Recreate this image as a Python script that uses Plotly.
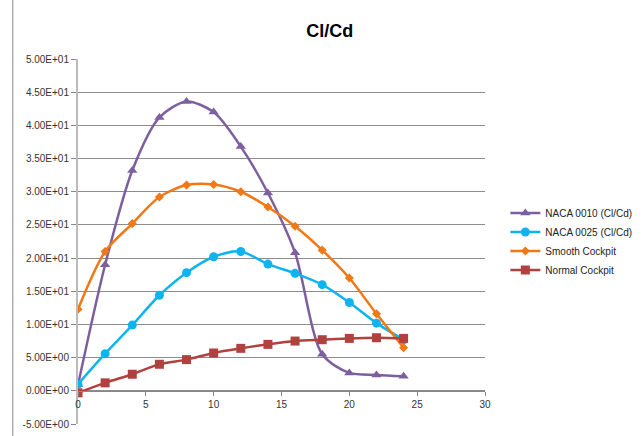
import plotly.graph_objects as go

aoa = [0, 2, 4, 6, 8, 10, 12, 14, 16, 18, 20, 22, 24]
naca0010 = [0.9, 19.0, 33.2, 41.2, 43.6, 42.0, 36.8, 29.8, 20.8, 5.5, 2.7, 2.4, 2.2]
naca0025 = [1.0, 5.6, 9.9, 14.4, 17.8, 20.2, 21.0, 19.1, 17.7, 16.0, 13.3, 10.2, 7.7]
smooth = [12.3, 21.0, 25.2, 29.2, 31.0, 31.1, 30.0, 27.7, 24.8, 21.2, 17.0, 11.6, 6.5]
normal = [-0.3, 1.2, 2.5, 4.0, 4.7, 5.7, 6.4, 7.0, 7.5, 7.7, 7.9, 8.0, 7.9]

ytick_vals = [-5, 0, 5, 10, 15, 20, 25, 30, 35, 40, 45, 50]
ytick_text = ["-5.00E+00", "0.00E+00", "5.00E+00", "1.00E+01", "1.50E+01", "2.00E+01",
              "2.50E+01", "3.00E+01", "3.50E+01", "4.00E+01", "4.50E+01", "5.00E+01"]
xtick_vals = [0, 5, 10, 15, 20, 25, 30]

series = [
    ("NACA 0010 (Cl/Cd)", naca0010, "#7D5FA0", "triangle-up", 9),
    ("NACA 0025 (Cl/Cd)", naca0025, "#0FB4EE", "circle", 9),
    ("Smooth Cockpit", smooth, "#F07817", "diamond", 7),
    ("Normal Cockpit", normal, "#B0413E", "square", 9),
]

fig = go.Figure()
for name, vals, col, sym, sz in series:
    fig.add_trace(go.Scatter(
        x=aoa, y=vals, name=name, mode="lines+markers",
        line=dict(color=col, width=2.5, shape="spline", smoothing=0.8),
        marker=dict(symbol=sym, size=sz, color=col),
    ))

fig.update_layout(
    width=643, height=436,
    margin=dict(l=78, r=153, t=59, b=6),
    paper_bgcolor="white", plot_bgcolor="white",
    font=dict(family="Liberation Sans, Arial, sans-serif", size=10, color="#333333"),
    title=dict(text="<b>Cl/Cd</b>", x=0.513, xanchor="center", y=0.93, yanchor="middle",
               font=dict(size=18, color="#000000")),
    legend=dict(x=1.05, xanchor="left", y=0.5, yanchor="middle",
                font=dict(size=10, color="#222222"), itemwidth=30,
                bgcolor="rgba(0,0,0,0)", tracegroupgap=0),
    xaxis=dict(range=[0, 30], tickvals=xtick_vals, showgrid=False, zeroline=False,
               anchor="free", position=5 / 55, showline=True, linecolor="#888888",
               linewidth=1, ticks="outside", ticklen=4, tickcolor="#888888",
               tickfont=dict(size=10, color="#333333")),
    yaxis=dict(range=[-5, 50], tickvals=ytick_vals, ticktext=ytick_text,
               showgrid=True, gridcolor="#8C8C8C", gridwidth=1, zeroline=False,
               showline=True, linecolor="#BBBBBB", linewidth=2,
               ticks="outside", ticklen=5, tickcolor="#888888",
               tickfont=dict(size=10, color="#333333")),
)
fig.add_shape(type="line", xref="paper", yref="paper", x0=-66 / 412, x1=-66 / 412,
              y0=-1, y1=1.2, line=dict(color="#888888", width=1))
fig.write_html("out.html")
